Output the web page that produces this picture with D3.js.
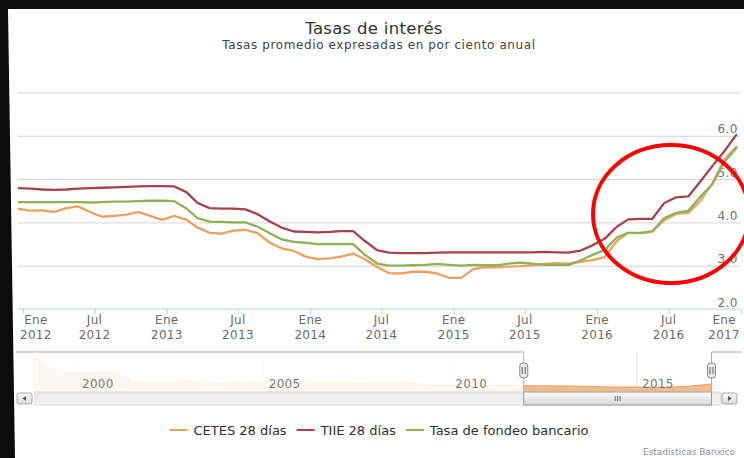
<!DOCTYPE html>
<html>
<head>
<meta charset="utf-8">
<script src="https://cdn.jsdelivr.net/npm/d3@7"></script>
<style>
  body { margin: 0; background: #fff; }
  svg { display: block; font-family: "DejaVu Sans", Verdana, sans-serif; }
</style>
</head>
<body>
<div id="chart"></div>
<script>
// monthly averages, Dec 2011 .. Dec 2016 (one value per month)
const firstMonth = "2011-12-20";
const cetes = [4.31, 4.27, 4.28, 4.24, 4.33, 4.37, 4.24, 4.13, 4.15, 4.18, 4.24, 4.15, 4.06,
  4.15, 4.06, 3.88, 3.76, 3.74, 3.81, 3.83, 3.75, 3.53, 3.40, 3.34, 3.21, 3.15, 3.17, 3.21,
  3.28, 3.15, 2.97, 2.83, 2.82, 2.86, 2.86, 2.82, 2.72, 2.72, 2.92, 2.97, 2.96, 2.98, 2.99,
  3.01, 3.04, 3.06, 3.05, 3.09, 3.13, 3.20, 3.57, 3.76, 3.76, 3.79, 4.05, 4.20, 4.22, 4.50,
  4.90, 5.45, 5.75];
const tiie = [4.79, 4.78, 4.76, 4.75, 4.76, 4.78, 4.79, 4.80, 4.81, 4.82, 4.83, 4.84, 4.84,
  4.83, 4.70, 4.45, 4.33, 4.32, 4.32, 4.30, 4.19, 4.02, 3.88, 3.79, 3.78, 3.77, 3.78, 3.80,
  3.80, 3.57, 3.36, 3.30, 3.29, 3.29, 3.29, 3.30, 3.31, 3.31, 3.31, 3.31, 3.31, 3.31, 3.31,
  3.31, 3.32, 3.31, 3.30, 3.35, 3.47, 3.62, 3.90, 4.07, 4.08, 4.08, 4.45, 4.58, 4.60, 4.95,
  5.30, 5.65, 6.02];
const fondeo = [4.47, 4.47, 4.47, 4.47, 4.47, 4.47, 4.46, 4.47, 4.48, 4.48, 4.49, 4.50, 4.50,
  4.49, 4.32, 4.10, 4.02, 4.01, 4.00, 4.00, 3.90, 3.75, 3.61, 3.55, 3.53, 3.50, 3.50, 3.50,
  3.50, 3.25, 3.05, 3.00, 3.00, 3.01, 3.02, 3.04, 3.02, 3.00, 3.02, 3.01, 3.01, 3.05, 3.07,
  3.05, 3.02, 3.02, 3.02, 3.12, 3.25, 3.36, 3.65, 3.76, 3.75, 3.79, 4.10, 4.22, 4.27, 4.60,
  4.88, 5.40, 5.72];
const seriesNames = ["CETES 28 días", "TIIE 28 días", "Tasa de fondeo bancario"];
const seriesColors = ["#EFA05E", "#A4434F", "#8DB356"];

const xTicks = ["2012-01", "2012-07", "2013-01", "2013-07", "2014-01", "2014-07", "2015-01",
  "2015-07", "2016-01", "2016-07", "2017-01"];
const monthLabels = { 0: "Ene", 6: "Jul" };
const yTicks = [2, 3, 4, 5, 6];
const gridValues = [3, 4, 5, 6, 7];

// navigator: CETES 28 days, long history
const navMonths = ["1998-11", "1999-02", "1999-04", "1999-07", "1999-10", "2000-01", "2000-05",
  "2000-09", "2001-01", "2001-05", "2001-09", "2002-05", "2003-01", "2003-03", "2003-07",
  "2004-03", "2005-01", "2005-06", "2006-01", "2006-07", "2007-06", "2008-06", "2008-12",
  "2009-04", "2009-08", "2010-06", "2011-06", "2012-06", "2013-06", "2014-06", "2015-01",
  "2015-09", "2016-01", "2016-07", "2016-12", "2017-02"];
const navValues = [35, 27, 22, 21, 17, 17, 17, 18, 17, 12, 8, 7, 9, 8, 6, 7, 8.5, 9.5, 8, 7,
  7.2, 7.7, 8, 6, 4.5, 4.5, 4.3, 4.2, 3.8, 2.9, 2.8, 3.0, 3.1, 4.2, 5.7, 6.3];
const navYears = [2000, 2005, 2010, 2015];

const W = 744, H = 458;
const FONT = '"DejaVu Sans", Verdana, sans-serif';
const svg = d3.select("#chart").append("svg").attr("width", W).attr("height", H);

// photo edge
svg.append("rect").attr("width", W).attr("height", H).attr("fill", "#0c0c0c");
svg.append("path").attr("d", "M8,9H744V458H15Z").attr("fill", "#fff");

// title
svg.append("text").attr("x", 374).attr("y", 34).attr("text-anchor", "middle")
  .attr("font-size", 16.5).attr("letter-spacing", 0.3).attr("fill", "#333").text("Tasas de interés");
svg.append("text").attr("x", 379).attr("y", 49).attr("text-anchor", "middle")
  .attr("font-size", 12).attr("letter-spacing", 0.6).attr("fill", "#444")
  .text("Tasas promedio expresadas en por ciento anual");

const plot = { left: 18, right: 740, top: 92, bottom: 309 };
const parseMonth = d3.timeParse("%Y-%m");
const start = d3.timeParse("%Y-%m-%d")(firstMonth);
const dates = cetes.map((d, i) => d3.timeMonth.offset(start, i));

const x = d3.scaleTime().domain([parseMonth("2012-01"), parseMonth("2017-01")]).range([23, 741]);
const y = d3.scaleLinear().domain([2, 7]).range([plot.bottom, 92.5]);

// grid
svg.append("g").attr("transform", `translate(${plot.left},0)`)
  .call(d3.axisRight(y).tickValues(gridValues).tickSize(plot.right - plot.left).tickFormat(""))
  .call(g => g.select(".domain").remove())
  .call(g => g.selectAll("line").attr("stroke", "#d6d6d6"));

// y labels inside plot, on the right
svg.append("g").attr("transform", "translate(738,0)")
  .call(d3.axisLeft(y).tickValues(yTicks).tickSize(0).tickPadding(0).tickFormat(d3.format(".1f")))
  .attr("font-family", FONT).attr("font-size", 12)
  .call(g => g.select(".domain").remove())
  .call(g => g.selectAll("text").attr("dy", -3).attr("letter-spacing", 0.5).attr("fill", "#707070"));

// x axis
const xAxis = svg.append("g").attr("transform", `translate(0,${plot.bottom})`)
  .call(d3.axisBottom(x).tickValues(xTicks.map(parseMonth)).tickSize(5).tickFormat(""))
  .call(g => g.select(".domain").remove())
  .call(g => g.selectAll("line").attr("stroke", "#C0D0E0"));
xAxis.append("line").attr("x1", plot.left).attr("x2", plot.right)
  .attr("stroke", "#C0D0E0");

const xLabels = svg.append("g").attr("font-size", 12).attr("letter-spacing", 0.3).attr("fill", "#6a6a6a");
xTicks.map(parseMonth).forEach(d => {
  const t = xLabels.append("text").attr("text-anchor", "middle").attr("x", x(d));
  t.append("tspan").attr("x", x(d)).attr("y", plot.bottom + 15).text(monthLabels[d.getMonth()]);
  t.append("tspan").attr("x", x(d)).attr("y", plot.bottom + 30).text(d.getFullYear());
});
// keep edge labels inside the chart
xLabels.selectAll("text").each(function () {
  const b = this.getBBox();
  let shift = 0;
  if (b.x < 20) shift = 20 - b.x;
  if (b.x + b.width > 740) shift = 740 - (b.x + b.width);
  if (shift) d3.select(this).selectAll("tspan").attr("x", function () { return +this.getAttribute("x") + shift; });
});

// series
svg.append("clipPath").attr("id", "plotClip").append("rect")
  .attr("x", plot.left).attr("y", 80).attr("width", plot.right - plot.left).attr("height", 240);
const line = d3.line().x((d, i) => x(dates[i])).y(d => y(d));
const lines = svg.append("g").attr("clip-path", "url(#plotClip)");
[cetes, tiie, fondeo].forEach((s, k) => {
  lines.append("path").attr("d", line(s)).attr("fill", "none")
    .attr("stroke", seriesColors[k]).attr("stroke-width", 2.3)
    .attr("stroke-linejoin", "round").attr("stroke-linecap", "round");
});

// navigator
const nav = { left: 16, right: 720, top: 352, bottom: 392 };
const xNav = d3.scaleTime().domain([parseMonth("2000-01"), parseMonth("2015-01")]).range([77, 637]);
const yNav = d3.scaleLinear().domain([-2, 36]).range([nav.bottom, 354]);
const selL = xNav(dates[0]), selR = xNav(dates[dates.length - 1]) + 1;

svg.append("clipPath").attr("id", "navClip").append("rect")
  .attr("x", nav.left).attr("y", nav.top).attr("width", nav.right - nav.left).attr("height", nav.bottom - nav.top);
const navG = svg.append("g").attr("clip-path", "url(#navClip)");
navYears.forEach(yr => {
  const xx = xNav(new Date(yr, 0, 1));
  navG.append("line").attr("x1", xx).attr("x2", xx).attr("y1", nav.top).attr("y2", nav.bottom)
    .attr("stroke", "#dedede");
});
const navArea = d3.area().curve(d3.curveMonotoneX)
  .x((d, i) => xNav(parseMonth(navMonths[i]))).y0(nav.bottom).y1(d => yNav(d));
const navLine = navArea.lineY1();
navG.append("path").attr("d", navArea(navValues)).attr("fill", "#F4B57E").attr("opacity", 0.9);
navG.append("path").attr("d", navLine(navValues)).attr("fill", "none").attr("stroke", "#EE9E5A").attr("stroke-width", 1);
// mask outside the selected range
navG.append("rect").attr("x", nav.left).attr("y", nav.top).attr("width", selL - nav.left)
  .attr("height", nav.bottom - nav.top).attr("fill", "#fff").attr("opacity", 0.87);
navG.append("rect").attr("x", selR).attr("y", nav.top).attr("width", nav.right - selR)
  .attr("height", nav.bottom - nav.top).attr("fill", "#fff").attr("opacity", 0.87);

navYears.forEach(yr => {
  svg.append("text").attr("x", xNav(new Date(yr, 0, 1)) + 5).attr("y", 388)
    .attr("font-size", 12).attr("letter-spacing", 0.3).attr("fill", "#7a7a7a").text(yr);
});

// outline
svg.append("path")
  .attr("d", `M${nav.left},${nav.top}H${selL}V${nav.bottom}M${selR},${nav.bottom}V${nav.top}H742`)
  .attr("fill", "none").attr("stroke", "#b2b1b6");

// scrollbar
const defs = svg.append("defs");
const grad = defs.append("linearGradient").attr("id", "btnGrad").attr("x1", 0).attr("x2", 0).attr("y1", 0).attr("y2", 1);
grad.append("stop").attr("offset", 0).attr("stop-color", "#fafafa");
grad.append("stop").attr("offset", 1).attr("stop-color", "#d9d9d9");
const tgrad = defs.append("linearGradient").attr("id", "trackGrad").attr("x1", 0).attr("x2", 0).attr("y1", 0).attr("y2", 1);
tgrad.append("stop").attr("offset", 0).attr("stop-color", "#e6e6e6");
tgrad.append("stop").attr("offset", 1).attr("stop-color", "#f6f6f6");

const sbTop = 392, sbH = 13;
svg.append("rect").attr("x", 35).attr("y", sbTop).attr("width", 686).attr("height", sbH)
  .attr("fill", "url(#trackGrad)").attr("stroke", "#dcdcdc");
svg.append("rect").attr("x", selL).attr("y", sbTop).attr("width", selR - selL).attr("height", sbH)
  .attr("fill", "url(#btnGrad)").attr("stroke", "#9a9a9a");
const gripX = (selL + selR) / 2;
[-2.5, 0, 2.5].forEach(o => {
  svg.append("line").attr("x1", gripX + o).attr("x2", gripX + o).attr("y1", sbTop + 4).attr("y2", sbTop + 9)
    .attr("stroke", "#666");
});
[[17, "left"], [722, "right"]].forEach(([bx, dir]) => {
  svg.append("rect").attr("x", bx).attr("y", sbTop + 1).attr("width", 15).attr("height", 11).attr("rx", 2)
    .attr("fill", "url(#btnGrad)").attr("stroke", "#aaa");
  const cx = bx + 7.5, cy = sbTop + 6.5;
  const p = dir === "left" ? `M${cx - 2},${cy}L${cx + 1.5},${cy - 2.5}L${cx + 1.5},${cy + 2.5}Z`
    : `M${cx + 2},${cy}L${cx - 1.5},${cy - 2.5}L${cx - 1.5},${cy + 2.5}Z`;
  svg.append("path").attr("d", p).attr("fill", "#555");
});

// handles
[selL, selR].forEach(hx => {
  svg.append("rect").attr("x", hx - 4).attr("y", 363).attr("width", 8).attr("height", 15).attr("rx", 3)
    .attr("fill", "#ebe7e8").attr("stroke", "#8a8a8e");
  [-1.5, 1.5].forEach(o => svg.append("line").attr("x1", hx + o).attr("x2", hx + o)
    .attr("y1", 367).attr("y2", 374).attr("stroke", "#666"));
});

// legend
const legend = svg.append("g").attr("font-size", 13).attr("fill", "#303030");
let lx = 0;
seriesNames.forEach((name, k) => {
  const g = legend.append("g");
  g.append("line").attr("x1", 0).attr("x2", 18).attr("y1", 0).attr("y2", 0)
    .attr("stroke", seriesColors[k]).attr("stroke-width", 2);
  const t = g.append("text").attr("x", 24).attr("y", 4.5).text(name);
  const w = 24 + t.node().getComputedTextLength();
  g.attr("transform", `translate(${lx},0)`);
  lx += w + 10;
});
const legendW = lx - 10;
legend.attr("transform", `translate(${379 - legendW / 2},430)`);

// credits
svg.append("text").attr("x", 735).attr("y", 455).attr("text-anchor", "end")
  .attr("font-size", 9).attr("fill", "#909090").text("Estadisticas Banxico");

// red hand-drawn circle annotation
svg.append("ellipse").attr("cx", 671).attr("cy", 214).attr("rx", 78).attr("ry", 69)
  .attr("fill", "none").attr("stroke", "#ff0000").attr("stroke-width", 4);
</script>
</body>
</html>
